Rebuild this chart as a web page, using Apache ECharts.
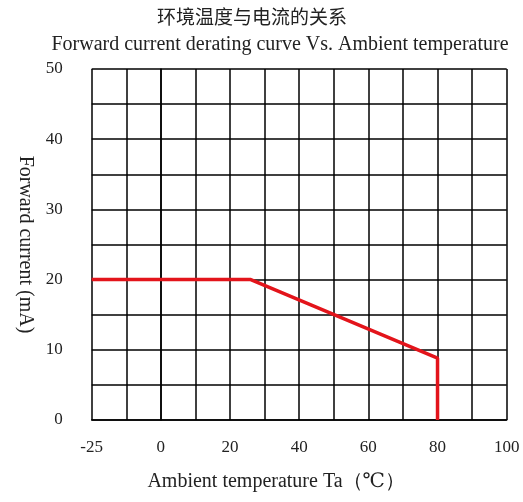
<!DOCTYPE html>
<html><head><meta charset="utf-8">
<script src="https://cdn.jsdelivr.net/npm/echarts@6/dist/echarts.min.js"></script>
<style>html,body{margin:0;padding:0;background:#fff}#c{width:523px;height:502px}</style>
</head><body><div id="c"></div>
<script>
const titleCN = '环境温度与电流的关系';
const titleEN = 'Forward current derating curve Vs. Ambient temperature';
const xName = 'Ambient temperature Ta（℃）';
const yName = 'Forward current (mA)';
const xTickValues = [-20, 0, 20, 40, 60, 80, 100];
const xTickLabels = ['-25', '0', '20', '40', '60', '80', '100'];
const yTickValues = [0, 10, 20, 30, 40, 50];
const yTickLabels = ['0', '10', '20', '30', '40', '50'];
const curveX = [-20, 26, 80, 80];
const curveY = [20, 20, 8.8, 0];

const serif = '"Liberation Serif", "DejaVu Serif", serif';
const chart = echarts.init(document.getElementById('c'));
chart.setOption({
  animation: false,
  title: [
    {text: titleCN, left: 247, top: 2, textAlign: 'center',
     textStyle: {fontFamily: '"Noto Sans CJK SC"', fontSize: 19, fontWeight: 'normal', color: '#222'}},
    {text: titleEN, left: 275, top: 30, textAlign: 'center',
     textStyle: {fontFamily: serif, fontSize: 20, fontWeight: 'normal', color: '#222'}}
  ],
  grid: {left: 91.7, right: 16.3, top: 69, bottom: 82},
  xAxis: {
    type: 'value', min: -20, max: 100, interval: 10,
    name: xName, nameLocation: 'middle', nameGap: 52,
    nameTextStyle: {fontFamily: serif, fontSize: 20, color: '#222', padding: [0, 46, 0, 0]},
    axisLine: {show: true, lineStyle: {color: '#000', width: 1.5}},
    axisTick: {show: false},
    splitLine: {show: true, lineStyle: {color: '#000', width: 1.5}},
    axisLabel: {
      margin: 19, fontFamily: serif, fontSize: 17, color: '#222', showMinLabel: true, showMaxLabel: true,
      formatter: v => { const i = xTickValues.indexOf(v); return i >= 0 ? xTickLabels[i] : ''; }
    }
  },
  yAxis: {
    type: 'value', min: 0, max: 50, interval: 5,
    name: yName, nameLocation: 'middle', nameGap: 56, nameRotate: -90,
    nameTextStyle: {fontFamily: serif, fontSize: 20, color: '#222'},
    axisLine: {show: true, lineStyle: {color: '#000', width: 1.5}},
    axisTick: {show: false},
    splitLine: {show: true, lineStyle: {color: '#000', width: 1.5}},
    axisLabel: {
      margin: 29, fontFamily: serif, fontSize: 17, color: '#222',
      formatter: v => { const i = yTickValues.indexOf(v); return i >= 0 ? yTickLabels[i] : ''; }
    }
  },
  series: [{
    type: 'line', data: curveX.map((x, i) => [x, curveY[i]]),
    showSymbol: false, lineStyle: {color: '#e3141b', width: 3.5}, z: 5
  }]
});
</script></body></html>
